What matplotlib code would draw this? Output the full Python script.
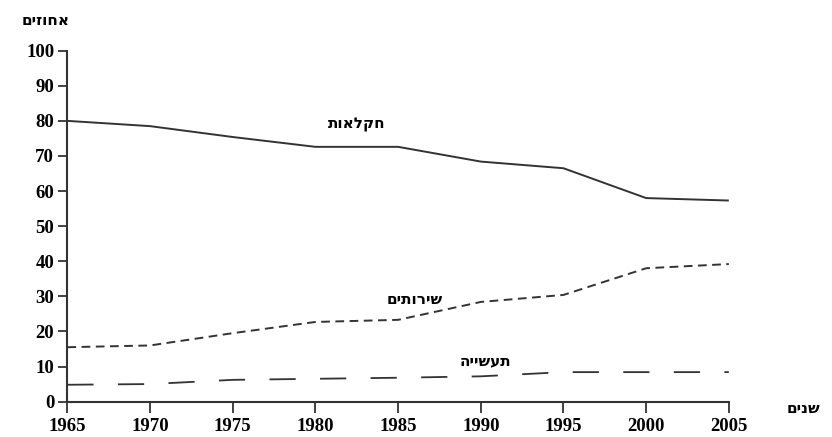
import matplotlib.pyplot as plt
import numpy as np

# data
years = [1965, 1970, 1975, 1980, 1985, 1990, 1995, 2000, 2005]
agriculture = [80, 78.5, 75.4, 72.6, 72.6, 68.4, 66.5, 58, 57.3]
services = [15.5, 16, 19.5, 22.7, 23.3, 28.4, 30.4, 38, 39.2]
industry = [4.8, 5, 6.2, 6.5, 6.8, 7.2, 8.4, 8.4, 8.4]

# hebrew labels (matplotlib has no bidi, so reverse them)
def heb(s):
    return s[::-1]

lbl_agri = 'חקלאות'
lbl_serv = 'שירותים'
lbl_ind = 'תעשייה'
lbl_y = 'אחוזים'
lbl_x = 'שנים'

col = '#333333'

fig = plt.figure(figsize=(8.32, 4.37), dpi=100)
ax = fig.add_axes([0.081, 0.081, 0.795, 0.803])

ax.plot(years, agriculture, color=col, lw=1.4, solid_capstyle='butt')
ax.plot(years, services, color=col, lw=1.4, dashes=(4.5, 2.8))
ax.plot(years, industry, color=col, lw=1.3, dashes=(14.5, 13.5))

ax.set_xlim(1965, 2005)
ax.set_ylim(0, 100)
ax.set_xticks(np.arange(1965, 2006, 5))
ax.set_yticks(np.arange(0, 101, 10))

for s in ['top', 'right']:
    ax.spines[s].set_visible(False)
for s in ['left', 'bottom']:
    ax.spines[s].set_color(col)
    ax.spines[s].set_linewidth(1.5)

ax.tick_params(axis='x', length=8, width=1.3, color=col, pad=4)
ax.tick_params(axis='y', length=6.5, width=1.3, color=col, pad=3)
for t in ax.get_xticklabels() + ax.get_yticklabels():
    t.set_fontfamily('Liberation Serif')
    t.set_fontweight('bold')
    t.set_fontsize(13.5)
    t.set_color('black')

hfont = dict(family='DejaVu Sans', fontweight='bold', fontsize=11, color='black')
ax.text(1982.5, 79.1, heb(lbl_agri), ha='center', va='center', **hfont)
ax.text(1986.0, 29.0, heb(lbl_serv), ha='center', va='center', **hfont)
ax.text(1990.3, 11.5, heb(lbl_ind), ha='center', va='center', **hfont)
fig.text(0.055, 0.954, heb(lbl_y), ha='center', va='center', **hfont)
fig.text(0.966, 0.066, heb(lbl_x), ha='center', va='center', **hfont)

fig.savefig('out.png', dpi=100)
